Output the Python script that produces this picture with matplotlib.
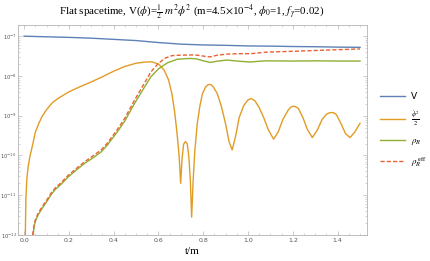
import numpy as np
import matplotlib
matplotlib.use("Agg")
import matplotlib.pyplot as plt
from matplotlib.ticker import FixedLocator, LogLocator, MultipleLocator, NullFormatter

# values, log10 of the plotted quantity
t_V = [0.0, 0.1, 0.2, 0.3, 0.4, 0.5, 0.6, 0.7, 0.8, 0.9, 1.0, 1.1, 1.2, 1.3, 1.4, 1.5]
logV = [-7.0, -7.015, -7.03, -7.05, -7.08, -7.11, -7.16, -7.20, -7.22, -7.23, -7.245,
        -7.25, -7.26, -7.265, -7.275, -7.28]

t_kin = [0.004, 0.006, 0.008, 0.012, 0.018, 0.025, 0.032, 0.04, 0.05, 0.065, 0.08, 0.1,
         0.125, 0.15, 0.2, 0.25, 0.3, 0.35, 0.4, 0.45, 0.5, 0.54, 0.57, 0.6, 0.625, 0.645,
         0.66, 0.672, 0.683, 0.692, 0.699, 0.705, 0.712, 0.72, 0.728, 0.735, 0.742, 0.748,
         0.755, 0.762, 0.773, 0.785, 0.796, 0.81, 0.819, 0.828, 0.837, 0.845, 0.862, 0.88,
         0.899, 0.915, 0.929, 0.945, 0.96, 0.98, 1.0, 1.013, 1.03, 1.05, 1.07, 1.09, 1.114,
         1.135, 1.155, 1.18, 1.192, 1.203, 1.214, 1.225, 1.245, 1.265, 1.287, 1.31, 1.33,
         1.35, 1.362, 1.373, 1.384, 1.395, 1.415, 1.435, 1.455, 1.475, 1.5]
logkin = [-12.6, -11.8, -11.1, -10.6, -10.28, -10.05, -9.88, -9.68, -9.42, -9.2, -9.02, -8.85,
          -8.68, -8.57, -8.40, -8.27, -8.15, -8.02, -7.88, -7.76, -7.68, -7.65, -7.645, -7.70,
          -7.85, -8.1, -8.45, -8.9, -9.45, -10.0, -10.7, -10.1, -9.72, -9.65, -9.7, -10.0,
          -10.6, -11.55, -10.6, -9.9, -9.2, -8.75, -8.45, -8.28, -8.23, -8.21, -8.23, -8.28,
          -8.44, -8.75, -9.19, -9.65, -9.86, -9.5, -9.05, -8.75, -8.6, -8.57, -8.62, -8.8,
          -9.05, -9.35, -9.59, -9.4, -9.1, -8.85, -8.78, -8.76, -8.78, -8.82, -9.05, -9.35,
          -9.55, -9.35, -9.1, -8.96, -8.93, -8.92, -8.93, -8.98, -9.2, -9.45, -9.55, -9.42,
          -9.19]

t_rho = [0.04, 0.045, 0.05, 0.062, 0.075, 0.09, 0.106, 0.121, 0.14, 0.166, 0.195, 0.23,
         0.27, 0.31, 0.344, 0.37, 0.39, 0.417, 0.45, 0.49, 0.53, 0.566, 0.6, 0.64, 0.684,
         0.72, 0.744, 0.77, 0.8, 0.832, 0.86, 0.906, 0.96, 1.01, 1.05, 1.084, 1.2, 1.3, 1.4, 1.5]
logrho = [-12.0, -11.78, -11.66, -11.5, -11.38, -11.25, -11.12, -10.98, -10.85, -10.72, -10.55,
          -10.38, -10.2, -10.05, -9.91, -9.75, -9.6, -9.4, -9.13, -8.72, -8.35, -8.02, -7.82,
          -7.67, -7.58, -7.565, -7.56, -7.57, -7.62, -7.66, -7.63, -7.60, -7.63, -7.65, -7.63,
          -7.62, -7.625, -7.62, -7.625, -7.625]

t_eff = [0.038, 0.045, 0.05, 0.062, 0.075, 0.09, 0.106, 0.121, 0.14, 0.166, 0.195, 0.23,
         0.27, 0.31, 0.344, 0.37, 0.39, 0.417, 0.45, 0.49, 0.53, 0.566, 0.6, 0.63, 0.66,
         0.684, 0.72, 0.758, 0.79, 0.81, 0.832, 0.86, 0.906, 0.96, 1.01, 1.05, 1.084, 1.2,
         1.3, 1.4, 1.5]
logeff = [-12.0, -11.74, -11.62, -11.46, -11.34, -11.21, -11.08, -10.94, -10.81, -10.68, -10.51,
          -10.34, -10.16, -10.0, -9.86, -9.70, -9.55, -9.34, -9.06, -8.64, -8.25, -7.9, -7.68,
          -7.55, -7.49, -7.48, -7.475, -7.47, -7.49, -7.51, -7.52, -7.48, -7.45, -7.44, -7.44,
          -7.42, -7.40, -7.38, -7.36, -7.34, -7.32]

decades = [-12, -11, -10, -9, -8, -7]

plt.rcParams['mathtext.fontset'] = 'stix'

fig = plt.figure(figsize=(4.3, 2.61), dpi=100)
ax = fig.add_axes([0.042, 0.0996, 0.811, 0.8044])

ax.plot(t_V, 10 ** np.array(logV), color='#5E81B5', lw=1.0, label='V')
ax.plot(t_kin, 10 ** np.array(logkin), color='#E19C24', lw=1.0, label=r'$\frac{\dot{\phi}^2}{2}$')
ax.plot(t_rho, 10 ** np.array(logrho), color='#8FB032', lw=1.0, label=r'$\rho_R$')
ax.plot(t_eff, 10 ** np.array(logeff), color='#EB6235', lw=1.0, ls=(0, (3, 1.5)),
        label=r'$\rho_R^{\,\mathrm{eff}}$')

ax.set_yscale('log')
ax.set_xlim(-0.027, 1.53)
ax.set_ylim(1e-12, 10 ** -6.72)
ax.xaxis.set_major_locator(MultipleLocator(0.2))
ax.xaxis.set_minor_locator(MultipleLocator(0.05))
ax.yaxis.set_major_locator(FixedLocator([10.0 ** d for d in decades]))
ax.yaxis.set_minor_locator(LogLocator(base=10, subs=np.arange(2, 10), numticks=10))
ax.yaxis.set_minor_formatter(NullFormatter())

for s in ax.spines.values():
    s.set_color('#b4b4b4')
    s.set_linewidth(0.6)
ax.tick_params(which='both', direction='in', top=True, right=True, color='#b4b4b4',
               labelsize=4.5, labelcolor='#555555')
ax.tick_params(axis='x', pad=2)
ax.tick_params(axis='y', labelsize=3.8, pad=1)
ax.tick_params(which='major', length=3, width=0.5)
ax.tick_params(which='minor', length=1.5, width=0.4)

ax.set_xlabel('t/m', family='Liberation Serif', fontsize=8, labelpad=3)
fig.text(0.445, 0.955,
         r'Flat spacetime, V($\phi$)=$\frac{1}{2}$ $m^2\phi^2$ (m=4.5$\times$10$^{-4}$, $\phi_0$=1, $f_\gamma$=0.02)',
         family='Liberation Serif', fontsize=7.9, ha='center', va='center')

fig.legend(loc='center left', bbox_to_anchor=(0.865, 0.5), frameon=False, fontsize=6.5,
           handlelength=2.8, labelspacing=0.9, handletextpad=0.6)

fig.savefig('out.png', dpi=100)
